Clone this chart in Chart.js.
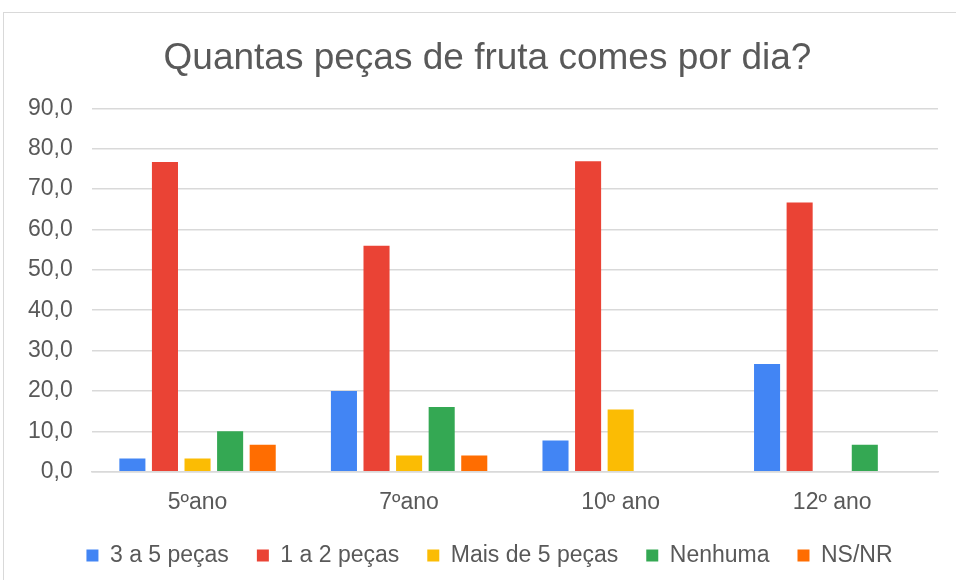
<!DOCTYPE html>
<html>
<head>
<meta charset="utf-8">
<script src="https://cdn.jsdelivr.net/npm/chart.js@4/dist/chart.umd.min.js"></script>
<style>
  html, body { margin: 0; padding: 0; background: #ffffff; overflow: hidden; }
  #frame { position: absolute; left: 3px; top: 12px; width: 1000px; height: 620px; border: 1px solid #d9d9d9; box-sizing: border-box; }
  #c { position: absolute; left: 0; top: 0; }
</style>
</head>
<body>
<div id="frame"></div>
<canvas id="c" width="956" height="580"></canvas>
<script>
const categories = ["5ºano", "7ºano", "10º ano", "12º ano"];
const seriesNames = ["3 a 5 peças", "1 a 2 peças", "Mais de 5 peças", "Nenhuma", "NS/NR"];
const tresACinco = [3.3, 20.0, 7.7, 26.7];
const umADois = [76.7, 56.0, 76.9, 66.7];
const maisDeCinco = [3.3, 4.0, 15.4, null];
const nenhuma = [10.0, 16.0, null, 6.7];
const nsnr = [6.7, 4.0, null, null];
const yTicks = [0, 10, 20, 30, 40, 50, 60, 70, 80, 90];

const colors = ["#4285F4", "#EA4335", "#FBBC04", "#34A853", "#FF6D01"];
const seriesValues = [tresACinco, umADois, maisDeCinco, nenhuma, nsnr];

const FONT = "'Liberation Sans', Arial, sans-serif";
const TXT = "#595959";

// Layout tweaks: legend takes less vertical room, legend and title centred like the reference
const blockTweak = {
  id: "blockTweak",
  afterInit(chart) {
    const lg = chart.legend;
    if (lg) {
      const origFit = lg.fit;
      lg.fit = function () { origFit.call(this); this.height -= 19; };
    }
  },
  afterLayout(chart) {
    const lg = chart.legend;
    if (lg) {
      lg.top -= 17;
      lg.bottom = chart.height;
      lg.height = lg.bottom - lg.top;
      lg.left += 16; lg.right += 16;
    }
    const tb = chart.titleBlock;
    if (tb) { tb.left += 14; tb.right += 14; }
  }
};

new Chart(document.getElementById("c"), {
  type: "bar",
  data: {
    labels: categories,
    datasets: seriesNames.map((n, i) => ({
      label: n,
      data: seriesValues[i],
      backgroundColor: colors[i],
      borderWidth: 0,
      categoryPercentage: 0.77,
      barPercentage: 0.8
    }))
  },
  plugins: [blockTweak],
  options: {
    responsive: false,
    animation: false,
    devicePixelRatio: 1,
    layout: { padding: { left: 9, right: 18, top: 0, bottom: 5 } },
    plugins: {
      tooltip: { enabled: false },
      title: {
        display: true,
        text: "Quantas peças de fruta comes por dia?",
        color: TXT,
        font: { family: FONT, size: 37, weight: "normal" },
        padding: { top: 37, bottom: 27 }
      },
      legend: {
        position: "bottom",
        labels: {
          color: TXT,
          font: { family: FONT, size: 23 },
          boxWidth: 12,
          boxHeight: 12,
          padding: 28
        }
      }
    },
    scales: {
      x: {
        grid: { display: false, drawTicks: false },
        border: { display: true, color: "#d9d9d9", width: 1.5 },
        ticks: { color: TXT, font: { family: FONT, size: 23, lineHeight: 1.1 }, padding: 18 }
      },
      y: {
        min: 0,
        max: 90,
        afterBuildTicks: (axis) => { axis.ticks = yTicks.map(v => ({ value: v })); },
        grid: { color: "#d9d9d9", lineWidth: 1.5, drawTicks: false },
        border: { display: false },
        ticks: {
          color: TXT,
          font: { family: FONT, size: 23 },
          padding: 19,
          callback: (v) => Number(v).toFixed(1).replace(".", ",")
        }
      }
    }
  }
});
</script>
</body>
</html>
